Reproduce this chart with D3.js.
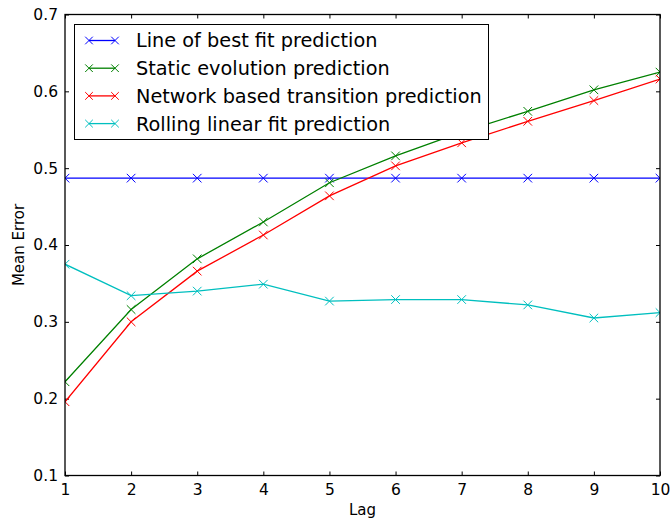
<!DOCTYPE html>
<html>
<head>
<meta charset="utf-8">
<script src="https://cdn.jsdelivr.net/npm/d3@7"></script>
<style>
  body { margin: 0; background: #fff; }
  text { font-family: "DejaVu Sans", sans-serif; fill: #000; }
</style>
</head>
<body>
<script>
var lags = [1, 2, 3, 4, 5, 6, 7, 8, 9, 10];
var bestFit = [0.487, 0.487, 0.487, 0.487, 0.487, 0.487, 0.487, 0.487, 0.487, 0.487];
var staticEvo = [0.222, 0.316, 0.382, 0.430, 0.481, 0.516, 0.547, 0.574, 0.602, 0.625];
var network = [0.196, 0.300, 0.366, 0.413, 0.464, 0.503, 0.533, 0.561, 0.588, 0.616];
var rolling = [0.375, 0.334, 0.340, 0.349, 0.327, 0.329, 0.329, 0.322, 0.305, 0.312];
var yTicks = [0.1, 0.2, 0.3, 0.4, 0.5, 0.6, 0.7];

var series = [
  {name: "Line of best fit prediction", values: bestFit, color: "#0000ff"},
  {name: "Static evolution prediction", values: staticEvo, color: "#008000"},
  {name: "Network based transition prediction", values: network, color: "#ff0000"},
  {name: "Rolling linear fit prediction", values: rolling, color: "#00bfbf"}
];

var w = 671, h = 521;
var padL = 65, padR = 660, padT = 14.5, padB = 475.5;

var svg = d3.select("body").append("svg")
    .attr("width", w)
    .attr("height", h);

var x = d3.scaleLinear().domain([1, 10]).range([padL, padR]);
var y = d3.scaleLinear().domain([0.1, 0.7]).range([padB, padT]);

// inward ticks on all four sides
var tk = 4;
svg.append("g").attr("transform", "translate(0," + padB + ")")
  .call(d3.axisBottom(x).tickValues(lags).tickSize(-tk).tickPadding(8).tickFormat(d3.format("d")));
svg.append("g").attr("transform", "translate(0," + padT + ")")
  .call(d3.axisTop(x).tickValues(lags).tickSize(-tk).tickFormat(""));
svg.append("g").attr("transform", "translate(" + padL + ",0)")
  .call(d3.axisLeft(y).tickValues(yTicks).tickSize(-tk).tickPadding(7).tickFormat(d3.format(".1f")));
svg.append("g").attr("transform", "translate(" + padR + ",0)")
  .call(d3.axisRight(y).tickValues(yTicks).tickSize(-tk).tickFormat(""));

svg.selectAll(".domain").remove();
svg.selectAll(".tick line").attr("stroke", "#000").attr("stroke-width", 1);
svg.selectAll(".tick text").attr("font-size", 15.5).attr("font-family", "DejaVu Sans");

svg.append("clipPath").attr("id", "clip")
  .append("rect").attr("x", padL).attr("y", padT).attr("width", padR - padL).attr("height", padB - padT);

var plot = svg.append("g").attr("clip-path", "url(#clip)");

var line = d3.line()
  .x(function(d, i) { return x(lags[i]); })
  .y(function(d) { return y(d); });

function cross(g, cx, cy, color, m) {
  g.append("path")
    .attr("d", "M" + (cx - m) + "," + (cy - m) + "L" + (cx + m) + "," + (cy + m) +
               "M" + (cx - m) + "," + (cy + m) + "L" + (cx + m) + "," + (cy - m))
    .attr("stroke", color).attr("stroke-width", 1).attr("fill", "none");
}

series.forEach(function(s) {
  plot.append("path")
    .datum(s.values)
    .attr("d", line)
    .attr("fill", "none")
    .attr("stroke", s.color)
    .attr("stroke-width", 1.3);
  s.values.forEach(function(v, i) {
    cross(plot, x(lags[i]), y(v), s.color, 4.3);
  });
});

// frame
svg.append("rect")
  .attr("x", padL).attr("y", padT)
  .attr("width", padR - padL).attr("height", padB - padT)
  .attr("fill", "none").attr("stroke", "#000").attr("stroke-width", 1.3);

// legend
var lg = svg.append("g");
lg.append("rect")
  .attr("x", 74.5).attr("y", 24.5).attr("width", 414).attr("height", 115)
  .attr("fill", "#fff").attr("stroke", "#000").attr("stroke-width", 1);

series.forEach(function(s, i) {
  var cy = 40.5 + i * 27.7;
  lg.append("line")
    .attr("x1", 89).attr("x2", 115).attr("y1", cy).attr("y2", cy)
    .attr("stroke", s.color).attr("stroke-width", 1.3);
  cross(lg, 89, cy, s.color, 3.8);
  cross(lg, 115, cy, s.color, 3.8);
  lg.append("text")
    .attr("x", 136).attr("y", cy)
    .attr("dy", "0.36em")
    .attr("font-size", 19.3)
    .text(s.name);
});

svg.append("text")
  .attr("x", (padL + padR) / 2).attr("y", 515)
  .attr("text-anchor", "middle")
  .attr("font-size", 15)
  .text("Lag");

svg.append("text")
  .attr("transform", "translate(24," + ((padT + padB) / 2) + ") rotate(-90)")
  .attr("text-anchor", "middle")
  .attr("font-size", 15)
  .text("Mean Error");
</script>
</body>
</html>
